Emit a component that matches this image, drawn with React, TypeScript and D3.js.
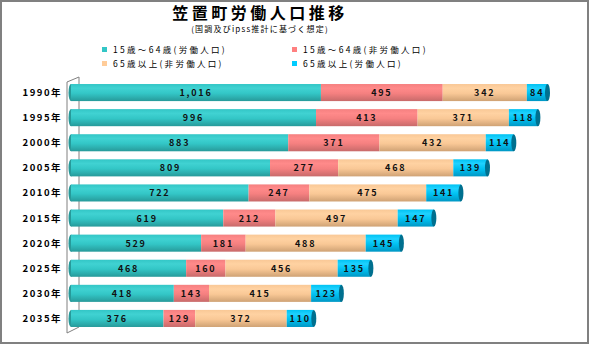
import React from "react";
import * as d3 from "d3";

const years = ["1990年","1995年","2000年","2005年","2010年","2015年","2020年","2025年","2030年","2035年"];
const workAge = [1016, 996, 883, 809, 722, 619, 529, 468, 418, 376];
const workAgeNon = [495, 413, 371, 277, 247, 212, 181, 160, 143, 129];
const elderNon = [342, 371, 432, 468, 475, 497, 488, 456, 415, 372];
const elderWork = [84, 118, 114, 139, 141, 147, 145, 135, 123, 110];
const seriesNames = ["15歳～64歳(労働人口)", "15歳～64歳(非労働人口)", "65歳以上(非労働人口)", "65歳以上(労働人口)"];

const W = 589, H = 344;
const colors = [
  { top: "#40d2d2", mid: "#33c6c6", bot: "#279a9a", legend: "#33c6c6" },
  { top: "#ff8a8a", mid: "#f58080", bot: "#c86a6a", legend: "#ff8080" },
  { top: "#ffd2a2", mid: "#f9c896", bot: "#cfa274", legend: "#ffcc99" },
  { top: "#1fd2ff", mid: "#00c2f2", bot: "#0097c4", legend: "#00ccff" },
];
const capColor = "#00708f";

export default function App() {
  const series = [workAge, workAgeNon, elderNon, elderWork];
  const x = d3.scaleLinear().domain([0, 2000]).range([71, 563]);
  const y = d3.scaleBand().domain(years).range([80, 331]).paddingInner(0.32).paddingOuter(0.16);
  const bh = y.bandwidth();
  const fmt = d3.format(",");
  const jp = "'Noto Sans CJK JP', 'Noto Sans', sans-serif";

  const legendPos = [
    { lx: 102, ly: 50 },
    { lx: 292, ly: 50 },
    { lx: 102, ly: 64 },
    { lx: 292, ly: 64 },
  ];

  return (
    <svg width={W} height={H} style={{ position: "absolute", left: 0, top: 0 }} fontFamily={jp}>
      <defs>
        {colors.map((c, i) => (
          <linearGradient key={i} id={`g${i}`} x1="0" y1="0" x2="0" y2="1">
            <stop offset="0" stopColor={c.mid} />
            <stop offset="0.25" stopColor={c.top} />
            <stop offset="0.55" stopColor={c.mid} />
            <stop offset="1" stopColor={c.bot} />
          </linearGradient>
        ))}
      </defs>
      <rect x={0} y={0} width={W} height={H} fill="#fff" />
      <rect x={1} y={1} width={W - 2} height={H - 2} fill="none" stroke="#808080" strokeWidth={2} />

      <text x={260} y={19} textAnchor="middle" fontSize={16} fontWeight="bold" letterSpacing={3.5}>笠置町労働人口推移</text>
      <text x={260} y={31.5} textAnchor="middle" fontSize={8} letterSpacing={1.2}>(国調及びipss推計に基づく想定)</text>

      {seriesNames.map((n, i) => (
        <g key={n}>
          <rect x={legendPos[i].lx} y={legendPos[i].ly - 3} width={5} height={5} fill={colors[i].legend} />
          <text x={legendPos[i].lx + 11} y={legendPos[i].ly + 3} fontSize={8.5} letterSpacing={2.3}>{n}</text>
        </g>
      ))}

      {/* 3D wall */}
      <path d={`M67,333 L67,82 L79,77 L79,327 M67,333 L79,327`} fill="none" stroke="#808080" strokeWidth={1} />

      {years.map((yr, r) => {
        const yc = (y(yr) as number);
        let cum = 0;
        const segs = series.map((s, i) => {
          const v = s[r];
          const seg = { i, v, x0: x(cum), x1: x(cum + v) };
          cum += v;
          return seg;
        });
        const end = segs[segs.length - 1].x1;
        return (
          <g key={yr}>
            <text x={62} y={yc + bh / 2 + 3.5} textAnchor="end" fontSize={9.5} fontWeight="bold" letterSpacing={1.5}>{yr}</text>
            <ellipse cx={x(0)} cy={yc + bh / 2} rx={2.5} ry={bh / 2} fill={colors[0].bot} />
            {segs.map((s) => (
              <rect key={s.i} x={s.x0} y={yc} width={s.x1 - s.x0} height={bh} fill={`url(#g${s.i})`} />
            ))}
            <ellipse cx={end} cy={yc + bh / 2} rx={2.5} ry={bh / 2} fill={capColor} />
            {segs.map((s) => (
              <text key={"t" + s.i} x={(s.x0 + s.x1) / 2} y={yc + bh / 2 + 3.5} textAnchor="middle" fontSize={9} fontWeight="bold" letterSpacing={1.8} fill="#111">{fmt(s.v)}</text>
            ))}
          </g>
        );
      })}
    </svg>
  );
}
